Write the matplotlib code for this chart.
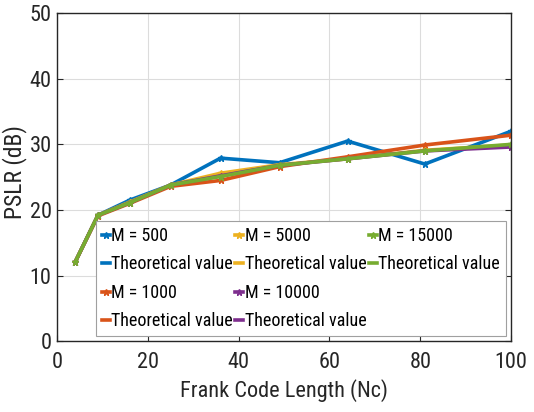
import matplotlib
matplotlib.use("Agg")
import matplotlib.pyplot as plt
from matplotlib.lines import Line2D

plt.rcParams['font.family'] = ['Roboto Condensed', 'DejaVu Sans']

nc = [4, 9, 16, 25, 36, 49, 64, 81, 100]
m500 = [12.1, 19.2, 21.5, 23.8, 27.9, 27.2, 30.5, 27.0, 32.0]
m1000 = [12.1, 19.1, 21.0, 23.6, 24.5, 26.6, 28.1, 29.9, 31.4]
m5000 = [12.1, 19.2, 21.2, 23.8, 25.6, 26.9, 27.8, 29.1, 29.9]
m10000 = [12.1, 19.2, 21.1, 23.8, 25.2, 26.8, 27.8, 29.0, 29.6]
m15000 = [12.1, 19.2, 21.1, 23.8, 25.1, 26.8, 27.8, 29.0, 30.0]
labels = ["M = 500", "M = 1000", "M = 5000", "M = 10000", "M = 15000"]
theo_label = "Theoretical value"
colors = ["#0072BD", "#D95319", "#EDB120", "#7E2F8E", "#77AC30"]
series = [m500, m1000, m5000, m10000, m15000]

fig = plt.figure(figsize=(5.34, 4.12), dpi=100)
ax = fig.add_axes([0.107, 0.172, 0.850, 0.796])

handles, labs = [], []
for lab, col, ys in zip(labels, colors, series):
    h, = ax.plot(nc, ys, color=col, lw=2.6, marker='*', ms=5)
    t, = ax.plot([], [], color=col, lw=2.6)
    handles += [h, t]
    labs += [lab, theo_label]
# blank slots so the 3-column legend fills 4 + 4 + 2 like the original
for _ in range(2):
    handles.append(Line2D([], [], color='none'))
    labs.append("")

ax.set_xlim(0, 100)
ax.set_ylim(0, 50)
ax.set_xticks([0, 20, 40, 60, 80, 100])
ax.set_yticks([0, 10, 20, 30, 40, 50])
ax.grid(True, color='#dcdcdc', lw=0.8)
ax.set_axisbelow(True)
ax.tick_params(direction='in', labelsize=16, top=False, right=True, length=4, pad=4,
               color='#262626', labelcolor='#262626')
ax.tick_params(axis='x', pad=8)
for s in ax.spines.values():
    s.set_color('#262626')
    s.set_linewidth(1.0)
ax.set_xlabel("Frank Code Length (Nc)", fontsize=16, color='#262626', labelpad=4)
ax.set_ylabel("PSLR (dB)", fontsize=17, color='#262626')
ax.yaxis.set_label_coords(-0.066, 0.515)

leg = ax.legend(handles=handles, labels=labs, ncol=3, loc='lower right', bbox_to_anchor=(1.0, 0.0),
                fontsize=13, handlelength=0.45, handletextpad=0.1, columnspacing=0.1,
                labelspacing=0.58, borderpad=0.3, borderaxespad=0.3, fancybox=False, framealpha=1)
leg.get_frame().set_edgecolor('#a0a0a0')
leg.get_frame().set_linewidth(0.8)

fig.savefig("out.png", dpi=100)
